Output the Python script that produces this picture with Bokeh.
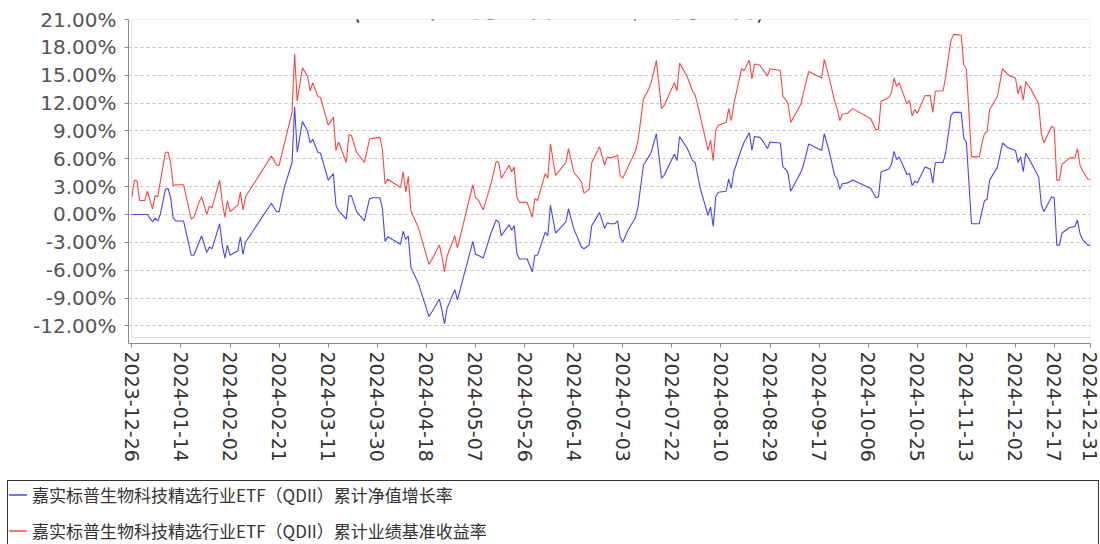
import pandas as pd
from bokeh.plotting import figure
from bokeh.layouts import column
from bokeh.models import (Range1d, FixedTicker, DatetimeTickFormatter, PrintfTickFormatter,
                          Label, BoxAnnotation, Div)
from bokeh.embed import file_html
from bokeh.resources import INLINE

title_text = "(2023年12月26日-2024年12月31日)"
start_date = "2023-12-26"

# days elapsed since start_date
day_offset = [0, 1, 2, 3, 5, 6, 8, 9, 10, 11, 13, 14, 15, 16, 17, 20, 23, 24, 26, 27, 29, 30, 31, 34, 35,
              36, 37, 38, 41, 42, 43, 44, 54, 56, 57, 59, 62, 63, 64, 66, 68, 69, 70, 72, 73, 76, 78, 79,
              80, 83, 84, 85, 87, 90, 92,
              93, 96, 97, 98, 99, 104, 105, 106, 107, 108, 111, 115, 117, 119, 120, 121, 122, 125, 126,
              132, 133, 134, 136, 139, 141, 142, 143, 146, 147, 148, 149, 150, 153, 155, 156, 157, 160,
              161, 162, 164, 168, 169, 171, 174, 175, 177, 178, 181, 183, 184, 185,
              187, 188, 189, 190, 192, 195, 196, 198, 200, 201, 203, 205, 206, 210, 211, 212, 215, 217,
              218, 220, 223, 224, 225, 226, 227, 230, 231, 232, 233, 236, 237, 239, 240, 241, 243, 244,
              246, 247, 251, 252, 253, 254, 255, 259, 260, 262, 267, 268, 270, 272, 273, 274, 275, 277,
              279, 286, 288, 289, 290, 293, 294, 295, 296, 297, 300, 301, 302, 303, 304, 307, 309, 310,
              311, 314, 315, 317, 318, 321, 322, 323, 325, 328, 329, 330, 331, 332, 335, 337, 339, 340,
              342, 343, 344, 345, 346, 348, 351, 352, 353, 356, 357, 358, 359, 360, 363, 365, 366, 367,
              368, 370, 371]

nav_growth = [0.0, 0.0, 0.0, 0.0, 0.0, 0.0, -0.8, -0.4, -0.7, 0.0, 2.7, 2.8, 1.8, -0.4, -0.7,
              -0.7, -4.4, -4.4, -3.0, -2.3, -4.1, -3.5, -3.7, -1.0, -3.3, -4.7, -3.3, -4.4, -3.9, -2.4,
              -4.3, -3.0, 1.2, 0.3, 0.3, 2.9, 5.6, 11.6, 6.7, 10.0, 9.0, 7.7, 8.1, 6.7, 6.6,
              3.7, 4.4, 1.0, 0.4, -0.5, 2.0, 2.0, 0.3, -0.7, 1.7,
              1.8, 1.8, 0.6, -2.9, -2.4, -3.2, -1.8, -2.7, -2.3, -5.7,
              -7.5, -11.0, -10.1, -9.1, -10.3, -11.8, -10.1, -8.1, -9.2, -2.9,
              -4.3, -4.4, -4.7, -2.0, -0.6, -0.8, -2.3, -1.1, -1.7, -1.2,
              -4.2, -4.8, -4.8, -6.2, -4.4, -4.4, -1.9, -2.3, 1.0, -2.0,
              -0.8, 0.6, -1.5, -3.5, -3.7, -3.3, -1.2, 0.2, -1.5, -0.9, -1.0,
              -1.0, -0.7, -2.4, -3.0, -1.7, -0.3, 1.0, 5.3, 6.2, 6.7,
              8.7, 3.9, 4.2, 6.5, 5.8, 8.4, 7.1, 5.8, 5.6, 2.8,
              -0.1, 0.8, -1.3, 1.9, 2.4, 2.5, 3.8, 2.8, 4.6, 7.1,
              7.8, 8.8, 6.9, 8.4, 8.3, 8.0, 7.1, 7.8, 7.7, 5.1,
              4.9, 4.4, 2.5, 4.6, 5.4, 7.6, 6.9, 8.7, 6.7, 4.2, 3.8, 2.7, 3.3, 3.4,
              3.7, 2.8, 1.8, 1.9, 4.6, 4.9, 5.4, 6.8, 5.9, 6.2,
              4.3, 4.4, 3.1, 3.6, 3.4, 5.1, 4.9, 3.4, 5.6, 5.6,
              6.7, 10.6, 11.0, 11.0, 8.2, 7.8, -1.0, -1.0, 0.3, 1.5,
              1.6, 3.7, 5.1, 7.7, 7.2, 7.1, 6.9, 5.6, 6.2, 4.6,
              6.6, 5.6, 4.0, 1.1, 0.3, 1.9, 1.8, -3.3, -3.3, -2.0,
              -1.4, -1.3, -0.6, -2.1, -2.7, -3.3, -3.3]

benchmark = [1.9, 3.7, 3.6, 1.5, 1.5, 2.5, 0.6, 2.0, 1.9, 3.5, 6.7, 6.7, 5.6, 3.1, 3.2,
             3.2, -0.5, -0.3, 1.3, 1.9, 0.0, 0.9, 0.7, 3.7, 1.3, -0.3, 1.5, 0.3, 1.0, 2.4,
             0.5, 1.9, 6.3, 5.3, 5.3, 7.6, 11.0, 17.3, 12.2, 15.8, 14.9, 13.3, 14.2, 12.7, 12.6,
             9.6, 10.5, 6.9, 7.8, 5.6, 8.6, 8.5, 6.7, 5.6, 8.1,
             8.2, 8.3, 6.9, 3.3, 3.8, 2.9, 4.6, 2.4, 4.1, 0.4,
             -1.5, -5.4, -4.4, -3.3, -4.5, -6.2, -4.5, -2.3, -3.6, 3.2,
             1.8, 1.6, 0.5, 3.3, 5.7, 5.6, 3.9, 5.3, 4.6, 5.1,
             1.9, 1.3, 1.3, -0.3, 1.7, 1.5, 4.4, 3.9, 7.6, 4.2,
             5.6, 7.1, 4.6, 3.5, 2.3, 2.7, 5.6, 7.3, 5.3, 6.2, 6.1,
             6.2, 6.4, 4.2, 3.9, 5.1, 6.9, 8.1, 12.4, 13.5, 14.2,
             16.6, 11.4, 11.7, 14.2, 13.3, 16.3, 14.8, 13.3, 12.9, 10.6,
             6.9, 8.0, 5.8, 9.1, 9.6, 9.9, 11.4, 10.1, 11.9, 15.7,
             15.5, 16.6, 14.6, 16.2, 16.1, 15.7, 14.9, 15.7, 15.5, 12.7,
             12.4, 11.9, 9.9, 11.9, 13.2, 15.4, 14.7, 16.7, 14.6, 12.2, 11.4, 10.1, 10.8, 10.9,
             11.4, 10.3, 9.1, 9.2, 12.2, 12.6, 13.1, 14.7, 13.8, 14.2,
             11.9, 12.3, 10.6, 11.3, 10.9, 12.8, 12.8, 11.0, 13.3, 13.3,
             14.9, 18.7, 19.4, 19.3, 16.1, 15.7, 6.2, 6.2, 7.6, 8.7,
             8.9, 11.3, 12.7, 15.7, 15.1, 14.9, 14.7, 13.0, 13.9, 12.3,
             14.3, 13.5, 11.9, 8.7, 7.7, 9.5, 9.3, 3.7, 3.7, 5.4,
             6.1, 6.1, 7.1, 5.3, 4.7, 3.8, 3.8]

series_names = ["嘉实标普生物科技精选行业ETF（QDII）累计净值增长率",
                "嘉实标普生物科技精选行业ETF（QDII）累计业绩基准收益率"]
series_colors = ["#4444ff", "#ff4444"]

x_tick_labels = ["2023-12-26", "2024-01-14", "2024-02-02", "2024-02-21", "2024-03-11", "2024-03-30",
                 "2024-04-18", "2024-05-07", "2024-05-26", "2024-06-14", "2024-07-03", "2024-07-22",
                 "2024-08-10", "2024-08-29", "2024-09-17", "2024-10-06", "2024-10-25", "2024-11-13",
                 "2024-12-02", "2024-12-17", "2024-12-31"]
y_ticks = [-12, -9, -6, -3, 0, 3, 6, 9, 12, 15, 18, 21]
y_axis_bottom = -13.9
plot_area_bottom = -13.25

dates = pd.Timestamp(start_date) + pd.to_timedelta(day_offset, unit="D")

def ms(ts):
    return ts.value / 1e6

x_start = ms(dates[0]) - 1.3 * 86400000
x_end = ms(dates[-1]) + 3600000

p = figure(width=1100, height=480, x_axis_type="datetime", output_backend="svg",
           toolbar_location=None, x_range=Range1d(x_start, x_end),
           y_range=Range1d(y_axis_bottom, 21.0),
           min_border_left=128, min_border_right=10, min_border_top=19, min_border_bottom=137)
p.outline_line_color = None
p.background_fill_color = "white"
p.border_fill_color = "white"

r1 = p.line(dates, nav_growth, line_color=series_colors[0], line_width=1.1)
r2 = p.line(dates, benchmark, line_color=series_colors[1], line_width=1.1)

p.add_layout(BoxAnnotation(left=ms(dates[0]), right=ms(dates[-1]), bottom=plot_area_bottom, top=21.0,
                           fill_alpha=0, line_color="#9a9a9a", line_width=1, level="underlay"))

p.xgrid.visible = False
p.ygrid.grid_line_color = "#c4c4c4"
p.ygrid.grid_line_dash = "3 3"
p.ygrid.grid_line_width = 1

p.yaxis.ticker = FixedTicker(ticks=y_ticks)
p.yaxis.formatter = PrintfTickFormatter(format="%.2f%%")
p.xaxis.ticker = FixedTicker(ticks=[ms(pd.Timestamp(t)) for t in x_tick_labels])
fmt = "%Y-%m-%d"
p.xaxis.formatter = DatetimeTickFormatter(microseconds=fmt, milliseconds=fmt, seconds=fmt, minsec=fmt,
                                          minutes=fmt, hourmin=fmt, hours=fmt, days=fmt, months=fmt,
                                          years=fmt, strip_leading_zeros=False)
p.xaxis.major_label_orientation = "vertical"

for ax in (p.xaxis[0], p.yaxis[0]):
    ax.axis_line_color = "#8a8a8a"
    ax.major_tick_line_color = "#8a8a8a"
    ax.major_tick_in = 0
    ax.major_tick_out = 4
    ax.minor_tick_line_color = None
    ax.major_label_text_font = "DejaVu Sans"
    ax.major_label_text_font_size = "20px"
p.yaxis.major_label_standoff = 8
p.yaxis.major_label_text_color = "#555555"
p.xaxis.major_label_standoff = 4
p.xaxis.major_label_text_color = "#333333"
p.xaxis.major_label_text_font_size = "19px"
p.xaxis.major_label_text_line_height = 0.95

p.add_layout(Label(x=430, y=337, x_units="screen", y_units="screen", text=title_text,
                   text_align="center", text_baseline="alphabetic",
                   text_font="Noto Sans CJK SC", text_font_size="26px", text_color="#333333"))

row_tpl = ('<div style="height:28px;margin-bottom:8px;display:flex;align-items:center;white-space:nowrap;">'
           '<svg width="19" height="4" style="flex:none;margin-right:5px;display:block;">'
           '<line x1="1" y1="2" x2="19" y2="2" stroke="{c}" stroke-width="1.5"/></svg>'
           '<span style="color:#333333;line-height:28px;">{t}</span></div>')
rows = "".join(row_tpl.format(c=c, t=t) for c, t in zip(series_colors, series_names))
legend_html = ('<div style="margin-left:7px;width:1092px;height:64px;box-sizing:border-box;'
               'border:1px solid #333333;border-bottom:none;background:white;padding-top:0px;'
               'font-family:\'Noto Sans CJK SC\';font-size:17px;line-height:28px;">'
               + rows + '</div>')
legend_div = Div(text=legend_html, width=1100, height=64, margin=0)

layout = column(p, legend_div, spacing=0)

open("out.html", "w").write(file_html(layout, INLINE))
